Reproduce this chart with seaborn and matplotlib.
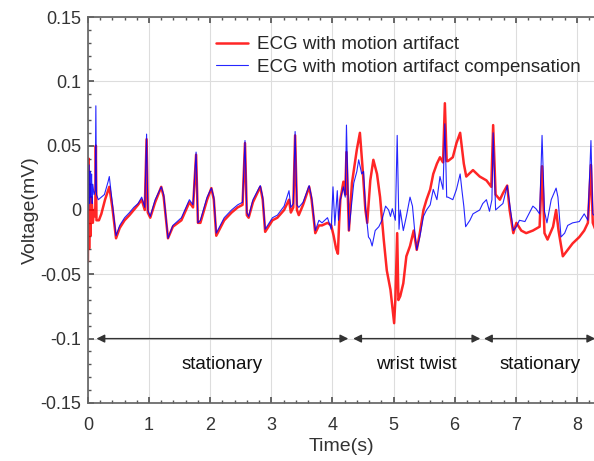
import numpy as np
import pandas as pd
import matplotlib
matplotlib.use("Agg")
import matplotlib.pyplot as plt
import seaborn as sns
from matplotlib.ticker import MultipleLocator

# ── Data (time in s, voltage in mV) ─────────────────────────────────────────
t_raw = [0.00, 0.01, 0.02, 0.03, 0.04, 0.06, 0.08, 0.10, 0.12, 0.13, 0.14, 0.18,
         0.22, 0.28, 0.35, 0.40, 0.46, 0.52, 0.60, 0.68, 0.75, 0.82, 0.88, 0.93,
         0.96, 0.98, 1.02, 1.10, 1.20, 1.24, 1.31, 1.39, 1.53, 1.66, 1.72, 1.77,
         1.80, 1.84, 1.95, 2.02, 2.06, 2.10, 2.23, 2.35, 2.45, 2.53, 2.57, 2.60,
         2.63, 2.70, 2.82, 2.86, 2.90, 3.02, 3.10, 3.21, 3.29, 3.32, 3.36, 3.39,
         3.42, 3.45, 3.52, 3.62, 3.66, 3.72, 3.78, 3.83, 3.92, 3.98, 4.02, 4.06,
         4.09, 4.11, 4.13, 4.18, 4.21, 4.23, 4.27, 4.32, 4.40, 4.45, 4.49, 4.54,
         4.57, 4.62, 4.67, 4.73, 4.78, 4.84, 4.89, 4.95, 5.01, 5.03, 5.06, 5.08,
         5.11, 5.16, 5.21, 5.27, 5.33, 5.38, 5.43, 5.49, 5.54, 5.60, 5.65, 5.71,
         5.76, 5.81, 5.84, 5.87, 5.89, 5.97, 6.03, 6.09, 6.15, 6.19, 6.30, 6.41,
         6.52, 6.60, 6.63, 6.67, 6.74, 6.79, 6.86, 6.90, 6.96, 7.01, 7.09, 7.17,
         7.28, 7.39, 7.43, 7.47, 7.52, 7.61, 7.66, 7.70, 7.77, 7.85, 7.93, 8.04,
         8.12, 8.18, 8.23, 8.26, 8.30]
v_raw = [-0.040, 0.040, -0.030, 0.020, -0.020, 0.010, -0.010, 0.000, -0.005, 0.050, -0.008, -0.008,
         -0.003, 0.008, 0.018, 0.002, -0.022, -0.014, -0.008, -0.004, 0.000, 0.004, 0.008, 0.000,
         0.055, -0.002, -0.006, 0.006, 0.018, 0.010, -0.022, -0.013, -0.008, 0.006, 0.002, 0.043,
         -0.010, -0.010, 0.008, 0.017, 0.008, -0.020, -0.008, -0.002, 0.002, 0.004, 0.052, -0.004,
         -0.006, 0.006, 0.018, 0.008, -0.017, -0.008, -0.006, 0.000, 0.008, -0.002, 0.002, 0.058,
         0.000, -0.004, 0.004, 0.018, 0.008, -0.018, -0.012, -0.012, -0.010, -0.012, -0.020, -0.030,
         -0.034, -0.010, 0.008, 0.022, 0.012, 0.045, -0.016, 0.021, 0.047, 0.060, 0.035, 0.000,
         -0.010, 0.023, 0.039, 0.028, 0.010, -0.023, -0.047, -0.062, -0.088, -0.070, -0.018, -0.070,
         -0.067, -0.057, -0.036, -0.028, -0.016, -0.031, -0.018, 0.000, 0.008, 0.016, 0.028, 0.036,
         0.041, 0.037, 0.083, 0.038, 0.038, 0.041, 0.052, 0.060, 0.036, 0.026, 0.031, 0.026,
         0.023, 0.018, 0.066, 0.012, 0.008, 0.013, 0.019, 0.000, -0.018, -0.010, -0.016, -0.018,
         -0.016, -0.013, 0.034, -0.018, -0.023, -0.013, 0.000, -0.016, -0.036, -0.031, -0.026, -0.021,
         -0.016, -0.010, 0.035, -0.010, -0.015]

t_comp = [0.00, 0.01, 0.02, 0.03, 0.04, 0.05, 0.06, 0.07, 0.08, 0.10, 0.12, 0.13,
          0.14, 0.17, 0.22, 0.27, 0.33, 0.35, 0.40, 0.46, 0.52, 0.60, 0.68, 0.75,
          0.82, 0.88, 0.93, 0.96, 0.98, 1.02, 1.10, 1.20, 1.24, 1.31, 1.39, 1.53,
          1.66, 1.72, 1.77, 1.80, 1.84, 1.95, 2.02, 2.06, 2.10, 2.23, 2.35, 2.45,
          2.53, 2.57, 2.60, 2.63, 2.70, 2.82, 2.86, 2.90, 3.02, 3.10, 3.21, 3.29,
          3.32, 3.36, 3.39, 3.42, 3.45, 3.52, 3.62, 3.66, 3.72, 3.78, 3.83, 3.92,
          3.98, 4.01, 4.04, 4.08, 4.10, 4.13, 4.18, 4.21, 4.23, 4.27, 4.35, 4.40,
          4.43, 4.48, 4.51, 4.54, 4.59, 4.62, 4.65, 4.70, 4.76, 4.81, 4.87, 4.92,
          4.95, 4.98, 5.03, 5.06, 5.09, 5.11, 5.16, 5.21, 5.27, 5.31, 5.35, 5.38,
          5.43, 5.49, 5.54, 5.60, 5.65, 5.71, 5.76, 5.81, 5.84, 5.87, 5.89, 5.97,
          6.03, 6.09, 6.12, 6.15, 6.18, 6.25, 6.30, 6.41, 6.46, 6.52, 6.57, 6.61,
          6.63, 6.67, 6.74, 6.79, 6.86, 6.90, 6.96, 7.01, 7.06, 7.15, 7.28, 7.33,
          7.39, 7.43, 7.47, 7.51, 7.58, 7.66, 7.69, 7.74, 7.80, 7.85, 7.93, 8.04,
          8.12, 8.18, 8.23, 8.26, 8.30]
v_comp = [0.040, 0.000, 0.035, 0.005, 0.030, 0.010, 0.028, 0.005, 0.020, 0.012, 0.015, 0.081,
          0.012, 0.008, 0.010, 0.012, 0.022, 0.026, 0.005, -0.020, -0.012, -0.006, -0.002, 0.002,
          0.005, 0.010, 0.002, 0.059, 0.000, -0.005, 0.008, 0.018, 0.012, -0.022, -0.012, -0.006,
          0.008, 0.004, 0.045, -0.010, -0.008, 0.010, 0.017, 0.010, -0.018, -0.006, 0.000, 0.004,
          0.006, 0.054, -0.002, -0.005, 0.008, 0.019, 0.010, -0.015, -0.006, -0.004, 0.003, 0.015,
          0.002, 0.005, 0.061, 0.004, 0.002, 0.006, 0.019, 0.010, -0.016, -0.008, -0.010, -0.006,
          -0.015, 0.018, -0.012, 0.015, -0.008, 0.008, 0.018, 0.010, 0.066, -0.016, 0.021, 0.030,
          0.039, 0.028, 0.030, 0.003, -0.021, -0.023, -0.028, -0.016, -0.013, -0.008, 0.003, 0.000,
          -0.005, 0.001, -0.008, 0.058, -0.015, 0.000, -0.016, -0.005, 0.010, 0.003, -0.018, -0.031,
          -0.021, -0.005, 0.000, 0.004, 0.016, 0.008, 0.026, 0.016, 0.067, 0.010, 0.010, 0.008,
          0.016, 0.028, 0.015, 0.003, -0.013, -0.008, -0.003, 0.000, 0.005, 0.008, -0.001, 0.008,
          0.060, 0.000, 0.003, 0.005, 0.019, 0.005, -0.016, -0.013, -0.008, -0.009, 0.003, 0.001,
          -0.003, 0.058, -0.001, -0.010, 0.008, 0.017, 0.010, -0.021, -0.018, -0.012, -0.010, -0.009,
          -0.003, -0.008, 0.054, -0.003, -0.005]

segments = ["stationary", "wrist twist", "stationary"]
seg_start = [0.14, 4.34, 6.48]
seg_end = [4.26, 6.42, 8.30]

y_ticks = [-0.15, -0.1, -0.05, 0, 0.05, 0.1, 0.15]
y_tick_labels = ["-0.15", "-0.1", "-0.05", "0", "0.05", "0.1", "0.15"]

df_raw = pd.DataFrame({"t": t_raw, "v": v_raw})
df_comp = pd.DataFrame({"t": t_comp, "v": v_comp})

# ── Plot ────────────────────────────────────────────────────────────────────
sns.set_theme(style="ticks")
plt.rcParams["font.family"] = ["Liberation Sans", "DejaVu Sans"]

fig = plt.figure(figsize=(5.94, 4.61), dpi=100)
ax = fig.add_axes([0.148, 0.126, 0.852, 0.837])

sns.lineplot(data=df_raw, x="t", y="v", ax=ax, color="#ff0000", lw=1.8,
             alpha=0.85, estimator=None, sort=False,
             label="ECG with motion artifact")
sns.lineplot(data=df_comp, x="t", y="v", ax=ax, color="#0000ff", lw=0.8,
             alpha=0.85, estimator=None, sort=False,
             label="ECG with motion artifact compensation")

ax.set_xlim(0, 8.28)
ax.set_ylim(-0.15, 0.15)
ax.xaxis.set_major_locator(MultipleLocator(1))
ax.xaxis.set_minor_locator(MultipleLocator(0.2))
ax.set_yticks(y_ticks)
ax.set_yticklabels(y_tick_labels)
ax.yaxis.set_minor_locator(MultipleLocator(0.01))
ax.grid(True, which="major", color="#dddddd", lw=0.8)
ax.tick_params(which="both", direction="in", top=True, right=False,
               colors="#555555", labelcolor="#333333", labelsize=13)
ax.tick_params(which="major", length=4)
ax.tick_params(which="minor", length=2.5)
ax.tick_params(axis="x", which="major", pad=10)
ax.tick_params(axis="y", which="major", pad=5)
for s in ["left", "bottom", "top"]:
    ax.spines[s].set_color("#666666")
ax.spines["right"].set_visible(False)

ax.set_xlabel("Time(s)", fontsize=14, color="#333333", labelpad=3)
ax.set_ylabel("Voltage(mV)", fontsize=14, color="#333333", labelpad=1)

# segment arrows and labels
for name, a, b in zip(segments, seg_start, seg_end):
    ax.annotate("", xy=(a, -0.1), xytext=(b, -0.1),
                arrowprops=dict(arrowstyle="<|-|>", color="#333333", lw=1,
                                mutation_scale=12, shrinkA=0, shrinkB=0))
    ax.text((a + b) / 2, -0.12, name, ha="center", va="center",
            fontsize=13.5, color="#111111")

leg = ax.legend(loc="upper right", bbox_to_anchor=(1.0, 0.985), frameon=False,
                fontsize=13.5, handlelength=1.7, handletextpad=0.5,
                labelspacing=0.3, borderaxespad=0.3)

fig.savefig("out.png", dpi=100)
